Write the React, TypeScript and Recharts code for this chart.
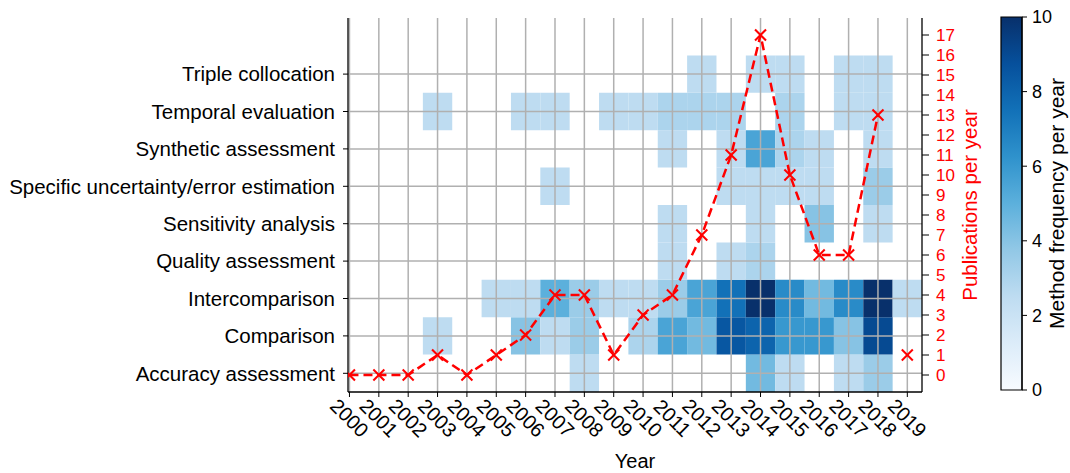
import React from "react";
import {
  ComposedChart,
  BarChart,
  Bar,
  Line,
  XAxis,
  YAxis,
  ReferenceArea,
  ReferenceLine,
  Label,
} from "recharts";

const years = [
  2000, 2001, 2002, 2003, 2004, 2005, 2006, 2007, 2008, 2009,
  2010, 2011, 2012, 2013, 2014, 2015, 2016, 2017, 2018, 2019,
];

const methods = [
  "Accuracy assessment",
  "Comparison",
  "Intercomparison",
  "Quality assessment",
  "Sensitivity analysis",
  "Specific uncertainty/error estimation",
  "Synthetic assessment",
  "Temporal evaluation",
  "Triple collocation",
];

const publications = [0, 0, 0, 1, 0, 1, 2, 4, 4, 1, 3, 4, 7, 11, 17, 10, 6, 6, 13, 1];

// method frequency per year (2000..2019)
const accuracyAssessment = [0, 0, 0, 0, 0, 0, 0, 0, 2.5, 0, 0, 0, 0, 0, 4.5, 2.5, 0, 2.5, 3.5, 0];
const comparison = [0, 0, 0, 2.5, 0, 0, 4, 2.5, 3.5, 0, 3, 5.5, 4.5, 8.5, 8, 6, 6, 4, 9, 0];
const intercomparison = [0, 0, 0, 0, 0, 2.5, 2.5, 5, 3.5, 2.5, 2.5, 3.5, 5.5, 7.5, 10, 6.5, 4.5, 6.5, 10, 2.5];
const qualityAssessment = [0, 0, 0, 0, 0, 0, 0, 0, 0, 0, 0, 2.5, 0, 2.5, 3, 0, 0, 0, 0, 0];
const sensitivityAnalysis = [0, 0, 0, 0, 0, 0, 0, 0, 0, 0, 0, 2.5, 0, 0, 2.5, 0, 4, 0, 2.5, 0];
const specificUncertainty = [0, 0, 0, 0, 0, 0, 0, 2.5, 0, 0, 0, 0, 0, 2.5, 2.5, 2.5, 2.5, 0, 3.5, 0];
const syntheticAssessment = [0, 0, 0, 0, 0, 0, 0, 0, 0, 0, 0, 2.5, 0, 2.5, 5.5, 3, 2.5, 0, 2.5, 0];
const temporalEvaluation = [0, 0, 0, 2.5, 0, 0, 2.5, 2.5, 0, 2.5, 2.5, 3, 3, 3, 0, 3, 0, 2.5, 2.5, 0];
const tripleCollocation = [0, 0, 0, 0, 0, 0, 0, 0, 0, 0, 0, 0, 2.5, 0, 2.5, 2.5, 0, 2.5, 2.5, 0];

const frequencyRows = [
  accuracyAssessment,
  comparison,
  intercomparison,
  qualityAssessment,
  sensitivityAnalysis,
  specificUncertainty,
  syntheticAssessment,
  temporalEvaluation,
  tripleCollocation,
];

const colorbarTicks = [0, 2, 4, 6, 8, 10];
const pubTicks = [0, 1, 2, 3, 4, 5, 6, 7, 8, 9, 10, 11, 12, 13, 14, 15, 16, 17];

// "Blues", nudged a little brighter to match the printed figure
const BLUES = ["#f7fbff", "#dcecf9", "#bedcf1", "#92c8e6", "#5cb0dc", "#2f92cc", "#1271b8", "#06509c", "#08306b"];

function hexToRgb(h: string) {
  return [parseInt(h.slice(1, 3), 16), parseInt(h.slice(3, 5), 16), parseInt(h.slice(5, 7), 16)];
}

function blues(v: number, vmax = 10) {
  const t = Math.max(0, Math.min(1, v / vmax)) * (BLUES.length - 1);
  const i = Math.min(BLUES.length - 2, Math.floor(t));
  const f = t - i;
  const a = hexToRgb(BLUES[i]);
  const b = hexToRgb(BLUES[i + 1]);
  const c = a.map((x, k) => Math.round(x + (b[k] - x) * f));
  return `rgb(${c[0]},${c[1]},${c[2]})`;
}

const data = years.map((year, i) => ({
  year,
  pubs: year < 2019 ? publications[i] : null,
  lone: year === 2019 ? publications[i] : null,
}));

const FONT = '"Liberation Sans", Arial, Helvetica, sans-serif';
const RED = "#ff0000";
const GRID = "#b0b0b0";

function YearTick(props: any) {
  const { x, y, payload } = props;
  const cy = y + 19;
  return (
    <text
      x={x}
      y={cy}
      transform={`rotate(45, ${x}, ${cy})`}
      textAnchor="middle"
      dominantBaseline="central"
      fontSize={20}
      fill="#000"
    >
      {payload.value}
    </text>
  );
}

function Cross(props: any) {
  const { cx, cy, key } = props;
  if (cx == null || cy == null) return <g key={key} />;
  const r = 5.5;
  return (
    <g key={key} stroke={RED} strokeWidth={2}>
      <line x1={cx - r} y1={cy - r} x2={cx + r} y2={cy + r} />
      <line x1={cx - r} y1={cy + r} x2={cx + r} y2={cy - r} />
    </g>
  );
}

export default function App() {
  const cells: React.ReactNode[] = [];
  frequencyRows.forEach((row, c) => {
    row.forEach((v, i) => {
      if (v <= 0) return;
      cells.push(
        <ReferenceArea
          key={`cell-${c}-${i}`}
          yAxisId="m"
          x1={years[i] - 0.5}
          x2={years[i] + 0.5}
          y1={c - 0.5}
          y2={c + 0.5}
          fill={blues(v)}
          fillOpacity={1}
          stroke="none"
          ifOverflow="hidden"
        />
      );
    });
  });

  return (
    <div style={{ position: "absolute", left: 0, top: 0, width: 1070, height: 473, fontFamily: FONT, background: "#fff" }}>
      <div style={{ position: "absolute", left: 0, top: 0 }}>
        <ComposedChart
          width={1070}
          height={473}
          data={data}
          margin={{ top: 18, right: 73, left: 8, bottom: 5 }}
        >
          <XAxis
            dataKey="year"
            type="number"
            domain={[1999.95, 2019.5]}
            allowDataOverflow
            ticks={years}
            interval={0}
            tick={<YearTick />}
            tickSize={5}
            height={76}
            stroke="#000"
            axisLine={{ stroke: "#000", strokeWidth: 1.3 }}
            tickLine={{ stroke: "#000" }}
          >
            <Label value="Year" position="insideBottom" offset={0} fontSize={20} fill="#000" />
          </XAxis>
          <XAxis
            xAxisId="top"
            dataKey="year"
            type="number"
            orientation="top"
            domain={[1999.95, 2019.5]}
            allowDataOverflow
            tick={false}
            tickLine={false}
            height={0}
            axisLine={{ stroke: "#000", strokeWidth: 1.3 }}
          />
          <YAxis
            yAxisId="m"
            type="number"
            domain={[-0.5, 9.5]}
            allowDataOverflow
            ticks={[0, 1, 2, 3, 4, 5, 6, 7, 8]}
            interval={0}
            tickFormatter={(v: number) => methods[v] ?? ""}
            width={340}
            tickSize={5}
            tickMargin={8}
            tick={{ fill: "#000", fontSize: 20.5 }}
            axisLine={{ stroke: "#000", strokeWidth: 1.3 }}
            tickLine={{ stroke: "#000" }}
          />
          <YAxis
            yAxisId="p"
            orientation="right"
            type="number"
            domain={[-0.85, 17.85]}
            allowDataOverflow
            ticks={pubTicks}
            interval={0}
            width={75}
            tickSize={7}
            tickMargin={7}
            tick={{ fill: RED, fontSize: 17 }}
            axisLine={{ stroke: "#000", strokeWidth: 1.3 }}
            tickLine={{ stroke: "#000" }}
          >
            <Label value="Publications per year" angle={-90} position="center" dx={10} fontSize={20.5} fill={RED} />
          </YAxis>

          {cells}

          {years.map((y) => (
            <ReferenceLine key={`gx-${y}`} yAxisId="m" x={y} stroke={GRID} strokeWidth={1.5} ifOverflow="hidden" />
          ))}
          {methods.map((m, c) => (
            <ReferenceLine key={`gy-${m}`} yAxisId="m" y={c} stroke={GRID} strokeWidth={1.5} />
          ))}

          <Line
            yAxisId="p"
            dataKey="pubs"
            stroke={RED}
            strokeWidth={2.5}
            strokeDasharray="9 5"
            dot={Cross}
            activeDot={false}
            isAnimationActive={false}
            connectNulls={false}
          />
          <Line
            yAxisId="p"
            dataKey="lone"
            stroke="none"
            dot={Cross}
            activeDot={false}
            isAnimationActive={false}
          />
        </ComposedChart>
      </div>

      <div style={{ position: "absolute", left: 990, top: 0 }}>
        <BarChart
          width={80}
          height={473}
          data={[{ k: "cb", v: 10 }]}
          margin={{ top: 17, right: 0, left: 11, bottom: 83 }}
          barCategoryGap={0}
        >
          <defs>
            <linearGradient id="bluesGrad" x1="0" y1="1" x2="0" y2="0">
              {BLUES.map((c, i) => (
                <stop key={c} offset={i / (BLUES.length - 1)} stopColor={c} />
              ))}
            </linearGradient>
          </defs>
          <XAxis dataKey="k" hide />
          <YAxis
            orientation="right"
            type="number"
            domain={[0, 10]}
            ticks={colorbarTicks}
            interval={0}
            width={48}
            tickSize={5}
            tickMargin={5}
            tick={{ fill: "#000", fontSize: 18 }}
            axisLine={{ stroke: "#000", strokeWidth: 1.2 }}
            tickLine={{ stroke: "#000" }}
          >
            <Label value="Method frequency per year" angle={-90} position="center" dx={11} fontSize={21} fill="#000" />
          </YAxis>
          <Bar dataKey="v" fill="url(#bluesGrad)" stroke="#000" strokeWidth={1.2} isAnimationActive={false} />
        </BarChart>
      </div>
    </div>
  );
}
